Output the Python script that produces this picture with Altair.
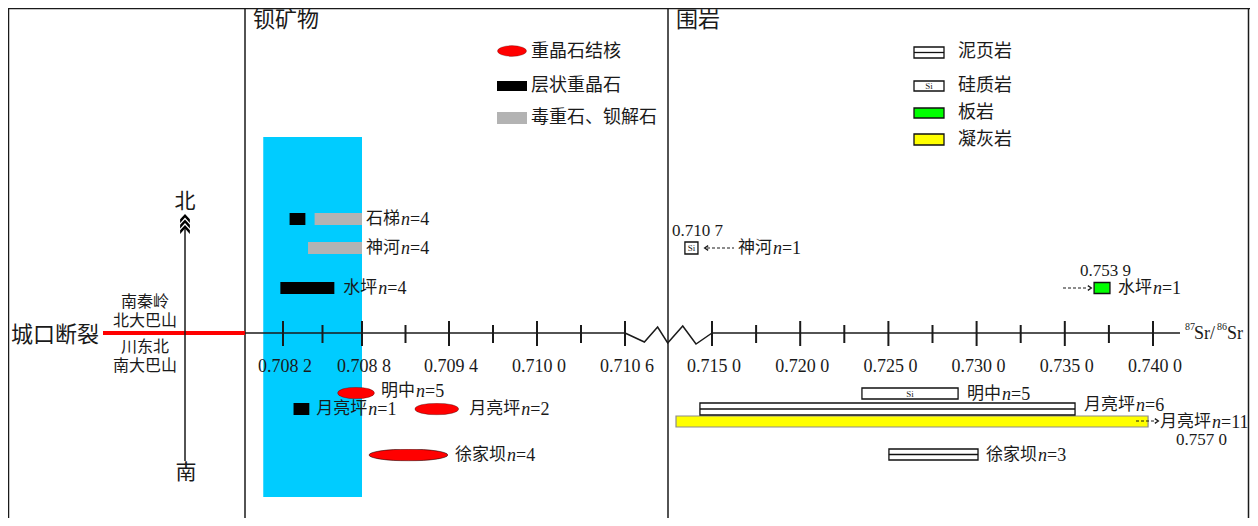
import altair as alt
import pandas as pd
from urllib.parse import quote

# ---------------- data: 钡矿物 (barium minerals) ----------------
min_site = ["石梯", "石梯", "神河", "水坪", "明中", "月亮坪", "月亮坪", "徐家坝"]
min_type = ["层状重晶石", "毒重石、钡解石", "毒重石、钡解石", "层状重晶石",
            "重晶石结核", "层状重晶石", "重晶石结核", "重晶石结核"]
min_lo = [0.70825, 0.70844, 0.70839, 0.70818, 0.70861, 0.70828, 0.70916, 0.70884]
min_hi = [0.70837, 0.70880, 0.70880, 0.70859, 0.70889, 0.70840, 0.70947, 0.70940]
min_n = [4, 4, 4, 4, 5, 1, 2, 4]
min_labeled = [False, True, True, True, True, True, True, True]
band_lo, band_hi = 0.70805, 0.70880

# ---------------- data: 围岩 (wall rocks) ----------------
rock_site = ["神河", "水坪", "明中", "月亮坪", "月亮坪", "徐家坝"]
rock_type = ["硅质岩", "板岩", "硅质岩", "泥页岩", "凝灰岩", "泥页岩"]
rock_lo = [0.71363, 0.73666, 0.72350, 0.71439, 0.71318, 0.72503]
rock_hi = [0.71429, 0.73756, 0.72895, 0.73558, 0.73972, 0.73008]
rock_n = [1, 1, 5, 6, 11, 3]
rock_value_text = ["0.710 7", "0.753 9", "0.757 0"]

# ---------------- axis ticks ----------------
major_ticks = [0.7082, 0.7088, 0.7094, 0.7100, 0.7106,
               0.7150, 0.7200, 0.7250, 0.7300, 0.7350, 0.7400]
major_labels = ["0.708 2", "0.708 8", "0.709 4", "0.710 0", "0.710 6",
                "0.715 0", "0.720 0", "0.725 0", "0.730 0", "0.735 0", "0.740 0"]
minor_ticks = [0.7085, 0.7091, 0.7097, 0.7103,
               0.7175, 0.7225, 0.7275, 0.7325, 0.7375]
axis_segments_lo = [0.70791, 0.7150]
axis_segments_hi = [0.7106, 0.74153]
zig_x = [0.7106, 0.71158, 0.71225, 0.71276, 0.71352, 0.71419, 0.7150]
zig_y = [333, 342, 327, 343, 326, 344, 333]

TYPE_DOMAIN = ["重晶石结核", "层状重晶石", "毒重石、钡解石", "泥页岩", "硅质岩", "板岩", "凝灰岩"]
TYPE_COLORS = ["#FF0000", "#000000", "#B3B3B3", "#FFFFFF", "#FFFFFF", "#00FF00", "#FFFF00"]

# ---------------- layout (reference-pixel rows, label gaps) ----------------
MIN_ROW = [219, 219, 248, 288, 393, 409, 409, 455]
MIN_HALF = [6, 6, 6, 6, 6.5, 6, 6.5, 6.5]
MIN_GAP = [0, 4, 4, 9, 6, 7, 10, 6]
MIN_LABEL_DY = [0, 0, 0, 0, -2, 0, 0, 0]
ROCK_ROW = [248, 288, 393.5, 409, 421.5, 454.5]
ROCK_HALF = [6, 5.5, 5.5, 6, 5.5, 5.5]
ROCK_GAP = [40, 8, 9, 9, 12, 8]
ROCK_LABEL_DY = [0, 0, 0, -4, 0, 0]

CJK = "Noto Sans CJK SC"
SERIF = "Liberation Serif"
INK = "#1a1a1a"

X_SCALE = alt.Scale(domain=[0.7082, 0.7088, 0.7094, 0.7100, 0.7106, 0.7150, 0.7400],
                    range=[275, 354, 441, 529, 617, 704, 1145],
                    zero=False, nice=False)
Y_SCALE = alt.Scale(domain=[8, 518], range=[0, 510], zero=False, nice=False)
FILL_SCALE = alt.Scale(domain=TYPE_DOMAIN, range=TYPE_COLORS)


def xq(f):
    return alt.X(f"{f}:Q", scale=X_SCALE, axis=None)


def yq(f):
    return alt.Y(f"{f}:Q", scale=Y_SCALE, axis=None)


def fillq():
    return alt.Fill("type:N", scale=FILL_SCALE, legend=None)


def vx(px):
    return alt.value(px - 8)


def vy(py):
    return alt.value(py - 8)


ONE = pd.DataFrame({"k": [0]})


def deco():
    return alt.Chart(ONE)


def hrule(x0, x1, y, color=INK, w=1.5, dash=None):
    kw = dict(color=color, strokeWidth=w)
    if dash:
        kw["strokeDash"] = dash
    return deco().mark_rule(**kw).encode(x=vx(x0), x2=vx(x1), y=vy(y))


def vrule(x, y0, y1, color=INK, w=1.5):
    return deco().mark_rule(color=color, strokeWidth=w).encode(x=vx(x), y=vy(y0), y2=vy(y1))


def txt(s, x, y, size=17, font=CJK, align="left", **kw):
    return deco().mark_text(align=align, baseline="middle", font=font, fontSize=size,
                            color=INK, **kw).encode(x=vx(x), y=vy(y), text=alt.value(s))


def ellipse_url(fill="#FF0000"):
    svg = ("<svg xmlns='http://www.w3.org/2000/svg' viewBox='0 0 100 100' "
           "preserveAspectRatio='none' width='100' height='100'>"
           f"<ellipse cx='50' cy='50' rx='48.5' ry='45' fill='{fill}' stroke='#000' "
           "stroke-width='1.1' vector-effect='non-scaling-stroke'/></svg>")
    return "data:image/svg+xml;charset=utf-8," + quote(svg)


def site_label(site, n, xval, ypx, gap, size=17):
    df = pd.DataFrame({"x": [xval], "y": [ypx]})
    base = alt.Chart(df)
    enc = dict(x=xq("x"), y=yq("y"))
    w = len(site) * size
    a = base.mark_text(align="left", baseline="middle", dx=gap, font=CJK, fontSize=size,
                       color=INK).encode(text=alt.value(site), **enc)
    b = base.mark_text(align="left", baseline="middle", dx=gap + w + 1, dy=1, font=SERIF,
                       fontStyle="italic", fontSize=size + 1, color=INK).encode(text=alt.value("n"), **enc)
    c = base.mark_text(align="left", baseline="middle", dx=gap + w + 10, dy=1, font=SERIF,
                       fontSize=size + 1, color=INK).encode(text=alt.value(f"={n}"), **enc)
    return [a, b, c]


layers = []

# ---- frame ----
layers += [hrule(8, 1250, 8.5), vrule(8.5, 8, 518), vrule(1248.5, 8, 518),
           vrule(245, 8, 518), vrule(668, 8, 518)]
layers += [txt("钡矿物", 253, 20, size=22), txt("围岩", 676, 20, size=22)]

# ---- blue band ----
band_df = pd.DataFrame({"lo": [band_lo], "hi": [band_hi], "y0": [137], "y1": [497]})
layers.append(alt.Chart(band_df).mark_rect(color="#00CCFF").encode(
    x=xq("lo"), x2="hi:Q", y=yq("y0"), y2="y1:Q"))

# ---- left panel: fault and N-S arrow ----
layers.append(hrule(103, 245, 333, color="#FF0000", w=4))
layers.append(txt("城口断裂", 11, 335, size=22))
layers += [txt("南秦岭", 145, 302, size=16, align="center"),
           txt("北大巴山", 145, 321, size=16, align="center"),
           txt("川东北", 145, 347, size=16, align="center"),
           txt("南大巴山", 145, 366, size=16, align="center")]
layers.append(vrule(185, 226, 461, w=1.5))
chev_df = pd.DataFrame({"y": [219, 224.5, 230]})
layers.append(alt.Chart(chev_df).mark_point(
    shape="M-1,0.8 L0,-0.3 L1,0.8 L1,0.05 L0,-1.05 L-1,0.05 Z", filled=True, color="#000",
    size=95, opacity=1).encode(x=vx(185), y=yq("y")))
layers += [txt("北", 185, 202, size=21, align="center"),
           txt("南", 186, 473, size=21, align="center")]

# ---- Sr axis ----
seg_df = pd.DataFrame({"lo": axis_segments_lo, "hi": axis_segments_hi})
layers.append(alt.Chart(seg_df).mark_rule(color=INK, strokeWidth=1.5).encode(
    x=xq("lo"), x2="hi:Q", y=vy(333)))
zig_df = pd.DataFrame({"x": zig_x, "y": zig_y, "i": list(range(len(zig_x)))})
layers.append(alt.Chart(zig_df).mark_line(color=INK, strokeWidth=1.5).encode(
    x=xq("x"), y=yq("y"), order="i:Q"))
maj_df = pd.DataFrame({"v": major_ticks, "label": major_labels})
min_df = pd.DataFrame({"v": minor_ticks})
layers.append(alt.Chart(maj_df).mark_rule(color=INK, strokeWidth=2).encode(
    x=xq("v"), y=vy(321), y2=vy(346)))
layers.append(alt.Chart(min_df).mark_rule(color=INK, strokeWidth=2).encode(
    x=xq("v"), y=vy(325), y2=vy(343)))
layers.append(alt.Chart(maj_df).mark_text(font=SERIF, fontSize=18, color=INK,
                                          baseline="middle", dx=2).encode(
    x=xq("v"), y=vy(367), text="label:N"))
layers += [txt("87", 1185, 327, size=10, font=SERIF), txt("Sr/", 1194, 334, size=18, font=SERIF),
           txt("86", 1217, 327, size=10, font=SERIF), txt("Sr", 1227, 334, size=18, font=SERIF)]

# ---- barium mineral bars ----
mdf = pd.DataFrame({"site": min_site, "type": min_type, "lo": min_lo, "hi": min_hi,
                    "n": min_n, "row": MIN_ROW, "half": MIN_HALF})
mdf["y0"] = mdf["row"] - mdf["half"]
mdf["y1"] = mdf["row"] + mdf["half"]
rect_df = mdf[mdf["type"] != "重晶石结核"]
nod_df = mdf[mdf["type"] == "重晶石结核"]
layers.append(alt.Chart(rect_df).mark_rect().encode(
    x=xq("lo"), x2="hi:Q", y=yq("y0"), y2="y1:Q", fill=fillq()))
layers.append(alt.Chart(nod_df).mark_image(aspect=False).encode(
    x=xq("lo"), x2="hi:Q", y=yq("y0"), y2="y1:Q", url=alt.value(ellipse_url())))
for i in range(len(min_site)):
    if min_labeled[i]:
        layers += site_label(min_site[i], min_n[i], min_hi[i], MIN_ROW[i] + MIN_LABEL_DY[i], MIN_GAP[i])

# ---- wall rock bars ----
rdf = pd.DataFrame({"site": rock_site, "type": rock_type, "lo": rock_lo, "hi": rock_hi,
                    "n": rock_n, "row": ROCK_ROW, "half": ROCK_HALF})
rdf["y0"] = rdf["row"] - rdf["half"]
rdf["y1"] = rdf["row"] + rdf["half"]
rdf["mid"] = (rdf["lo"] + rdf["hi"]) / 2
tuff_df = rdf[rdf["type"] == "凝灰岩"]
other_df = rdf[rdf["type"] != "凝灰岩"]
layers.append(alt.Chart(tuff_df).mark_rect(stroke="#8c8c8c", strokeWidth=1.2).encode(
    x=xq("lo"), x2="hi:Q", y=yq("y0"), y2="y1:Q", fill=fillq()))
layers.append(alt.Chart(other_df).mark_rect(stroke="#111111", strokeWidth=1.3).encode(
    x=xq("lo"), x2="hi:Q", y=yq("y0"), y2="y1:Q", fill=fillq()))
shale_df = rdf[rdf["type"] == "泥页岩"]
layers.append(alt.Chart(shale_df).mark_rule(color="#111111", strokeWidth=1.3).encode(
    x=xq("lo"), x2="hi:Q", y=yq("row")))
si_df = rdf[rdf["type"] == "硅质岩"]
layers.append(alt.Chart(si_df).mark_text(font=SERIF, fontSize=9, color=INK, baseline="middle").encode(
    x=xq("mid"), y=yq("row"), text=alt.value("Si")))
for i in range(len(rock_site)):
    layers += site_label(rock_site[i], rock_n[i], rock_hi[i], ROCK_ROW[i] + ROCK_LABEL_DY[i], ROCK_GAP[i])

# values beyond the drawn axis, with dashed arrows
layers += [txt(rock_value_text[0], 672, 231, size=17, font=SERIF),
           txt(rock_value_text[1], 1080, 271, size=17, font=SERIF),
           txt(rock_value_text[2], 1176, 440, size=17, font=SERIF)]
layers += [hrule(707, 734, 248, w=1.2, dash=[3, 2]),
           hrule(1063, 1088, 288, w=1.2, dash=[3, 2]),
           hrule(1136, 1155, 421, w=1.2, dash=[3, 2])]
layers.append(deco().mark_point(shape="M0.5,-1 L-1,0 L0.5,1", color=INK, strokeWidth=1.3,
                                size=22, opacity=1).encode(x=vx(707), y=vy(248)))
layers.append(deco().mark_point(shape="M-0.5,-1 L1,0 L-0.5,1", color=INK, strokeWidth=1.3,
                                size=22, opacity=1).encode(x=vx(1089), y=vy(288)))
layers.append(deco().mark_point(shape="M-0.5,-1 L1,0 L-0.5,1", color=INK, strokeWidth=1.3,
                                size=22, opacity=1).encode(x=vx(1156), y=vy(421)))

# ---- legend: barium minerals ----
layers.append(deco().mark_image(aspect=False).encode(
    x=vx(497), x2=vx(527), y=vy(45), y2=vy(57), url=alt.value(ellipse_url())))
leg1 = pd.DataFrame({"type": ["层状重晶石", "毒重石、钡解石"], "y0": [81, 112], "y1": [91, 124]})
layers.append(alt.Chart(leg1).mark_rect().encode(
    x=vx(497), x2=vx(527), y=yq("y0"), y2="y1:Q", fill=fillq()))
layers += [txt("重晶石结核", 531, 52, size=18), txt("层状重晶石", 531, 86, size=18),
           txt("毒重石、钡解石", 531, 118, size=18)]

# ---- legend: wall rocks ----
leg2 = pd.DataFrame({"type": ["泥页岩", "硅质岩", "板岩", "凝灰岩"],
                     "y0": [47, 81, 108, 134], "y1": [58, 91, 118, 145]})
layers.append(alt.Chart(leg2).mark_rect(stroke="#111111", strokeWidth=1.3).encode(
    x=vx(914), x2=vx(944), y=yq("y0"), y2="y1:Q", fill=fillq()))
layers.append(hrule(914, 944, 52.5, color="#111111", w=1.3))
layers.append(txt("Si", 929, 86, size=9, font=SERIF, align="center"))
layers += [txt("泥页岩", 958, 52, size=18), txt("硅质岩", 958, 86, size=18),
           txt("板岩", 958, 113, size=18), txt("凝灰岩", 958, 140, size=18)]

chart = alt.layer(*layers).properties(
    width=1242, height=510, padding=0, autosize="none"
).configure_view(stroke=None)

chart.save("out.html", embed_options={"renderer": "svg", "actions": False})
